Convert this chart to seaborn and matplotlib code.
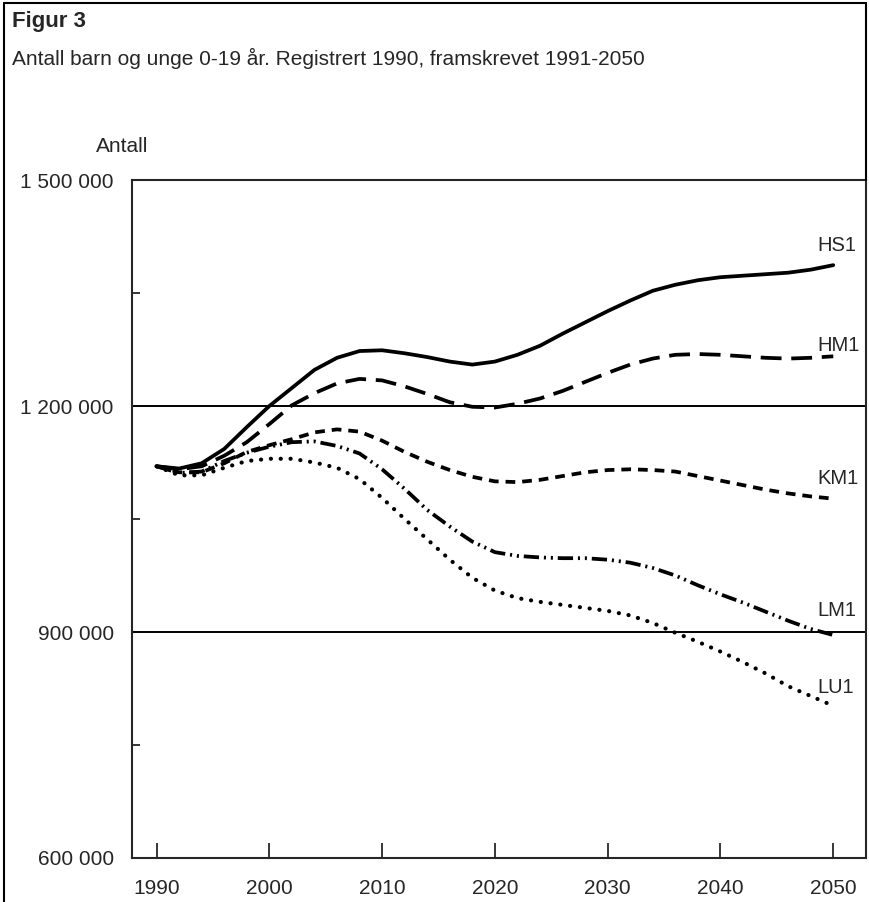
import matplotlib
matplotlib.use("Agg")
import matplotlib.pyplot as plt
import matplotlib.ticker as mticker
from matplotlib.lines import Line2D
import seaborn as sns
import pandas as pd

# ---------------- data ----------------
years = list(range(1990, 2051, 2))

hs1 = [1120000, 1117000, 1124000, 1143000, 1172000, 1200000, 1224000, 1248000,
       1264000, 1273000, 1274000, 1270000, 1265000, 1259000, 1255000, 1259000,
       1268000, 1280000, 1296000, 1311000, 1326000, 1340000, 1353000, 1361000,
       1367000, 1371000, 1373000, 1375000, 1377000, 1381000, 1387000]
hm1 = [1120000, 1116000, 1120000, 1134000, 1152000, 1176000, 1201000, 1217000,
       1230000, 1236000, 1234000, 1226000, 1216000, 1205000, 1199000, 1198000,
       1203000, 1210000, 1220000, 1232000, 1244000, 1255000, 1263000, 1268000,
       1269000, 1268000, 1266000, 1264000, 1263000, 1264000, 1266000]
km1 = [1120000, 1112000, 1112000, 1124000, 1139000, 1148000, 1156000, 1165000,
       1169000, 1166000, 1154000, 1139000, 1126000, 1115000, 1106000, 1100000,
       1099000, 1102000, 1107000, 1112000, 1115000, 1116000, 1115000, 1113000,
       1107000, 1101000, 1095000, 1089000, 1084000, 1080000, 1077000]
lm1 = [1120000, 1111000, 1113000, 1127000, 1138000, 1146000, 1152000, 1153000,
       1147000, 1137000, 1116000, 1090000, 1062000, 1040000, 1020000, 1006000,
       1001000, 999000, 998000, 998000, 996000, 992000, 985000, 975000,
       962000, 950000, 939000, 927000, 915000, 904000, 896000]
lu1 = [1120000, 1108000, 1108000, 1118000, 1127000, 1130000, 1130000, 1125000,
       1118000, 1103000, 1078000, 1050000, 1023000, 996000, 972000, 955000,
       945000, 940000, 936000, 932000, 928000, 922000, 912000, 899000,
       887000, 874000, 860000, 845000, 828000, 815000, 802000]

series_names = ["HS1", "HM1", "KM1", "LM1", "LU1"]
label_y = [1413000, 1281000, 1104000, 929000, 826000]

yticks = [600000, 900000, 1200000, 1500000]
minor_yticks = [750000, 1050000, 1350000]
xticks = [1990, 2000, 2010, 2020, 2030, 2040, 2050]

# ---------------- style ----------------
sns.set_style("ticks")
plt.rcParams['font.family'] = ['Liberation Sans', 'DejaVu Sans']
plt.rcParams['lines.scale_dashes'] = False

df = pd.DataFrame({"year": years, "HS1": hs1, "HM1": hm1, "KM1": km1,
                   "LM1": lm1, "LU1": lu1})

styles = {
    "HS1": dict(ls="-", lw=2.7),
    "HM1": dict(ls=(0, (15, 7)), lw=2.7),
    "KM1": dict(ls=(0, (7, 5)), lw=2.7),
    "LM1": dict(ls=(0, (11, 3.5, 1.5, 3.5, 1.5, 3.5)), lw=2.7),
    "LU1": dict(ls=(0, (0.1, 7)), lw=3.0, dash_capstyle="round"),
}

fig = plt.figure(figsize=(8.69, 9.02), dpi=100)
ax = fig.add_axes([0.1516, 0.0488, 0.8449, 0.7516])

for name in series_names:
    sns.lineplot(data=df, x="year", y=name, ax=ax, color="black",
                 **styles[name])

ax.axhline(900000, color="black", lw=1.4, zorder=1)
ax.axhline(1200000, color="black", lw=1.4, zorder=1)

for name, ly in zip(series_names, label_y):
    ax.text(2048.6, ly, name, fontsize=14.5, va="center", ha="left")

ax.set_xlim(1987.8, 2052.9)
ax.set_ylim(600000, 1500000)
ax.set_xticks(xticks)
ax.set_yticks(yticks)
ax.yaxis.set_minor_locator(mticker.FixedLocator(minor_yticks))
ax.yaxis.set_major_formatter(mticker.FuncFormatter(
    lambda v, p: f"{int(v):,}".replace(",", " ")))
ax.tick_params(axis="x", direction="in", length=11, width=1.3, pad=15, labelsize=15)
ax.tick_params(axis="y", which="major", length=0, pad=13, labelsize=15)
ax.tick_params(axis="y", which="minor", direction="in", length=6, width=1.3)
ax.set_xlabel("")
ax.set_ylabel("")
for sp in ax.spines.values():
    sp.set_linewidth(1.5)

# outer frame (left and top, right side shared with the axes)
fig.add_artist(Line2D([4 / 869, 4 / 869], [0, 1 - 3 / 902], color="black", lw=1.5))
fig.add_artist(Line2D([4 / 869, 866 / 869], [1 - 3 / 902, 1 - 3 / 902], color="black", lw=1.5))
fig.add_artist(Line2D([866 / 869, 866 / 869], [0.8, 1 - 3 / 902], color="black", lw=1.5))

fig.text(12 / 869, 1 - 22 / 902, "Figur 3", fontsize=16, fontweight="bold", va="center")
fig.text(12 / 869, 1 - 58 / 902,
         "Antall barn og unge 0-19 år. Registrert 1990, framskrevet 1991-2050",
         fontsize=15, va="center")
fig.text(122 / 869, 1 - 146 / 902, "Antall", fontsize=15, va="center", ha="center")

fig.savefig("out.png", dpi=100)
